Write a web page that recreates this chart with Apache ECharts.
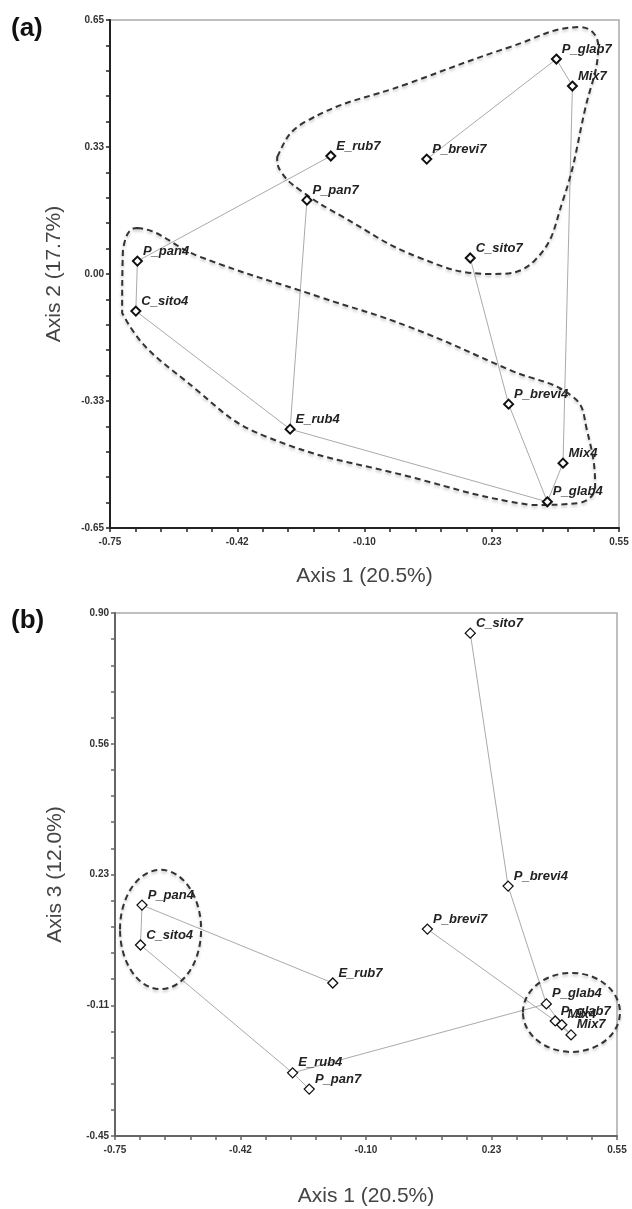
<!DOCTYPE html>
<html>
<head>
<meta charset="utf-8">
<script src="https://cdn.jsdelivr.net/npm/echarts@6.0.0/dist/echarts.min.js"></script>
<style>
  html, body { margin: 0; padding: 0; background: #fff; }
  #chart { width: 632px; height: 1209px; }
</style>
</head>
<body>
<div id="chart"></div>
<script>
// samples and their ordination scores
const sampleNames = ['P_glab7', 'Mix7', 'E_rub7', 'P_brevi7', 'P_pan7', 'C_sito7',
                     'P_pan4', 'C_sito4', 'E_rub4', 'P_brevi4', 'Mix4', 'P_glab4'];
const axis1 = [0.390, 0.431, -0.186, 0.059, -0.247, 0.170, -0.680, -0.684, -0.290, 0.268, 0.407, 0.367];
const axis2 = [0.550, 0.481, 0.302, 0.294, 0.189, 0.041, 0.033, -0.095, -0.397, -0.333, -0.484, -0.583];
const axis3 = [-0.153, -0.189, -0.055, 0.084, -0.329, 0.848, 0.146, 0.043, -0.287, 0.195, -0.163, -0.109];

// spanning tree links between samples
const links = [
  ['P_brevi7', 'P_glab7'], ['P_glab7', 'Mix7'], ['Mix7', 'Mix4'], ['Mix4', 'P_glab4'],
  ['P_glab4', 'E_rub4'], ['P_glab4', 'P_brevi4'], ['P_brevi4', 'C_sito7'],
  ['E_rub4', 'C_sito4'], ['E_rub4', 'P_pan7'], ['C_sito4', 'P_pan4'], ['P_pan4', 'E_rub7']
];

// tick values and labels
const xTickValues = [-0.75, -0.425, -0.1, 0.225, 0.55];
const xTickLabels = ['-0.75', '-0.42', '-0.10', '0.23', '0.55'];
const yTickValuesA = [-0.65, -0.325, 0, 0.325, 0.65];
const yTickLabelsA = ['-0.65', '-0.33', '0.00', '0.33', '0.65'];
const yTickValuesB = [-0.45, -0.1125, 0.225, 0.5625, 0.9];
const yTickLabelsB = ['-0.45', '-0.11', '0.23', '0.56', '0.90'];

// dashed group outlines, panel (a), in axis units
const hullA7 = [[-0.323, 0.299], [-0.252, 0.389], [0.016, 0.489], [0.272, 0.581], [0.450, 0.632],
                [0.497, 0.586], [0.463, 0.420], [0.407, 0.189], [0.336, 0.036], [0.221, 0.000],
                [0.042, 0.041], [-0.155, 0.146], [-0.265, 0.215], [-0.313, 0.261]];
const hullA4 = [[-0.681, 0.118], [-0.520, 0.044], [-0.214, -0.059], [0.016, -0.136], [0.272, -0.246],
                [0.433, -0.315], [0.468, -0.399], [0.489, -0.545], [0.450, -0.586], [0.323, -0.591],
                [0.016, -0.519], [-0.349, -0.417], [-0.520, -0.304], [-0.719, -0.100], [-0.717, 0.061]];
// dashed ellipses, panel (b): centre x, centre y, radius x, radius y
const ringsB = [[-0.632, 0.083, 0.105, 0.154], [0.432, -0.131, 0.1256, 0.102]];

const FONT = "'Liberation Sans', Arial, sans-serif";

function withMinor(majors, n) {
  const out = [];
  for (let i = 0; i < majors.length - 1; i++) {
    const step = (majors[i + 1] - majors[i]) / n;
    for (let k = 0; k < n; k++) out.push(majors[i] + k * step);
  }
  out.push(majors[majors.length - 1]);
  return out;
}

function labelFor(values, labels) {
  return v => {
    const i = values.findIndex(t => Math.abs(t - v) < 1e-6);
    return i >= 0 ? labels[i] : '';
  };
}

function valueAxis(gi, min, max, majors, labels, name, nameGap, lineColor, isY) {
  return {
    gridIndex: gi,
    type: 'value',
    min: min,
    max: max,
    name: name,
    nameLocation: 'middle',
    nameGap: nameGap,
    nameTextStyle: { fontSize: 21, color: '#444', fontFamily: FONT },
    axisLine: { onZero: false, lineStyle: { color: lineColor, width: 2 } },
    axisTick: { show: true, customValues: withMinor(majors, 5), length: 4, lineStyle: { color: lineColor, width: 1.5 } },
    axisLabel: {
      customValues: majors,
      formatter: labelFor(majors, labels),
      margin: isY ? 6 : 9,
      fontSize: 10,
      fontWeight: 'bold',
      color: '#333',
      fontFamily: FONT
    },
    splitLine: { show: false }
  };
}

function pointOf(ys, name) {
  const i = sampleNames.indexOf(name);
  return [axis1[i], ys[i]];
}

function linkSeries(gi, ys) {
  return {
    type: 'lines',
    coordinateSystem: 'cartesian2d',
    xAxisIndex: gi,
    yAxisIndex: gi,
    silent: true,
    z: 2,
    lineStyle: { color: '#aaa', width: 1, opacity: 1 },
    data: links.map(([a, b]) => ({ coords: [pointOf(ys, a), pointOf(ys, b)] }))
  };
}

function pointSeries(gi, ys, size, border) {
  return {
    type: 'scatter',
    xAxisIndex: gi,
    yAxisIndex: gi,
    z: 5,
    symbol: 'diamond',
    symbolSize: size,
    itemStyle: { color: '#fff', borderColor: '#111', borderWidth: border, opacity: 1 },
    label: {
      show: true,
      position: 'right',
      distance: 0,
      offset: [0, -10],
      formatter: p => p.data[2],
      fontSize: 13,
      fontStyle: 'italic',
      fontWeight: 'bold',
      color: '#222',
      fontFamily: FONT
    },
    data: sampleNames.map((n, i) => [axis1[i], ys[i], n])
  };
}

const dashStyle = {
  fill: null, stroke: '#333', lineWidth: 2, lineDash: [6, 4],
  shadowBlur: 3, shadowColor: 'rgba(0,0,0,0.25)', shadowOffsetY: 2
};

function hullSeries(hull) {
  return {
    type: 'custom',
    xAxisIndex: 0,
    yAxisIndex: 0,
    silent: true,
    z: 3,
    data: [hull[0]],
    renderItem: (params, api) => {
      const pts = hull.map(p => api.coord(p));
      const xs = pts.map(p => p[0]);
      const ys = pts.map(p => p[1]);
      const box = [[Math.min(...xs), Math.min(...ys)], [Math.max(...xs), Math.max(...ys)]];
      return {
        type: 'polygon',
        shape: { points: pts, smooth: 0.45, smoothConstraint: box },
        style: dashStyle
      };
    }
  };
}

const ringSeries = {
  type: 'custom',
  xAxisIndex: 1,
  yAxisIndex: 1,
  silent: true,
  z: 3,
  data: ringsB,
  renderItem: (params, api) => {
    const c = api.coord([api.value(0), api.value(1)]);
    const s = api.size([api.value(2), api.value(3)]);
    return { type: 'ellipse', shape: { cx: c[0], cy: c[1], rx: s[0], ry: s[1] }, style: dashStyle };
  }
};

const chart = echarts.init(document.getElementById('chart'), null, { renderer: 'canvas' });

chart.setOption({
  backgroundColor: '#fff',
  animation: false,
  textStyle: { fontFamily: FONT },
  graphic: [
    { type: 'text', left: 11, top: 16, style: { text: '(a)', font: 'bold 26px ' + FONT, fill: '#111' } },
    { type: 'text', left: 11, top: 608, style: { text: '(b)', font: 'bold 26px ' + FONT, fill: '#111' } }
  ],
  grid: [
    { left: 110, top: 20, width: 509, height: 508, show: true, borderColor: '#aaa', borderWidth: 1.5 },
    { left: 115, top: 613, width: 502, height: 523, show: true, borderColor: '#aaa', borderWidth: 1.5 }
  ],
  xAxis: [
    valueAxis(0, -0.75, 0.55, xTickValues, xTickLabels, 'Axis 1 (20.5%)', 38, '#222', false),
    valueAxis(1, -0.75, 0.55, xTickValues, xTickLabels, 'Axis 1 (20.5%)', 50, '#666', false)
  ],
  yAxis: [
    valueAxis(0, -0.65, 0.65, yTickValuesA, yTickLabelsA, 'Axis 2 (17.7%)', 45, '#222', true),
    valueAxis(1, -0.45, 0.9, yTickValuesB, yTickLabelsB, 'Axis 3 (12.0%)', 49, '#666', true)
  ],
  series: [
    linkSeries(0, axis2),
    hullSeries(hullA7),
    hullSeries(hullA4),
    pointSeries(0, axis2, 9, 2),
    linkSeries(1, axis3),
    ringSeries,
    pointSeries(1, axis3, 10, 1.3)
  ]
});
</script>
</body>
</html>
